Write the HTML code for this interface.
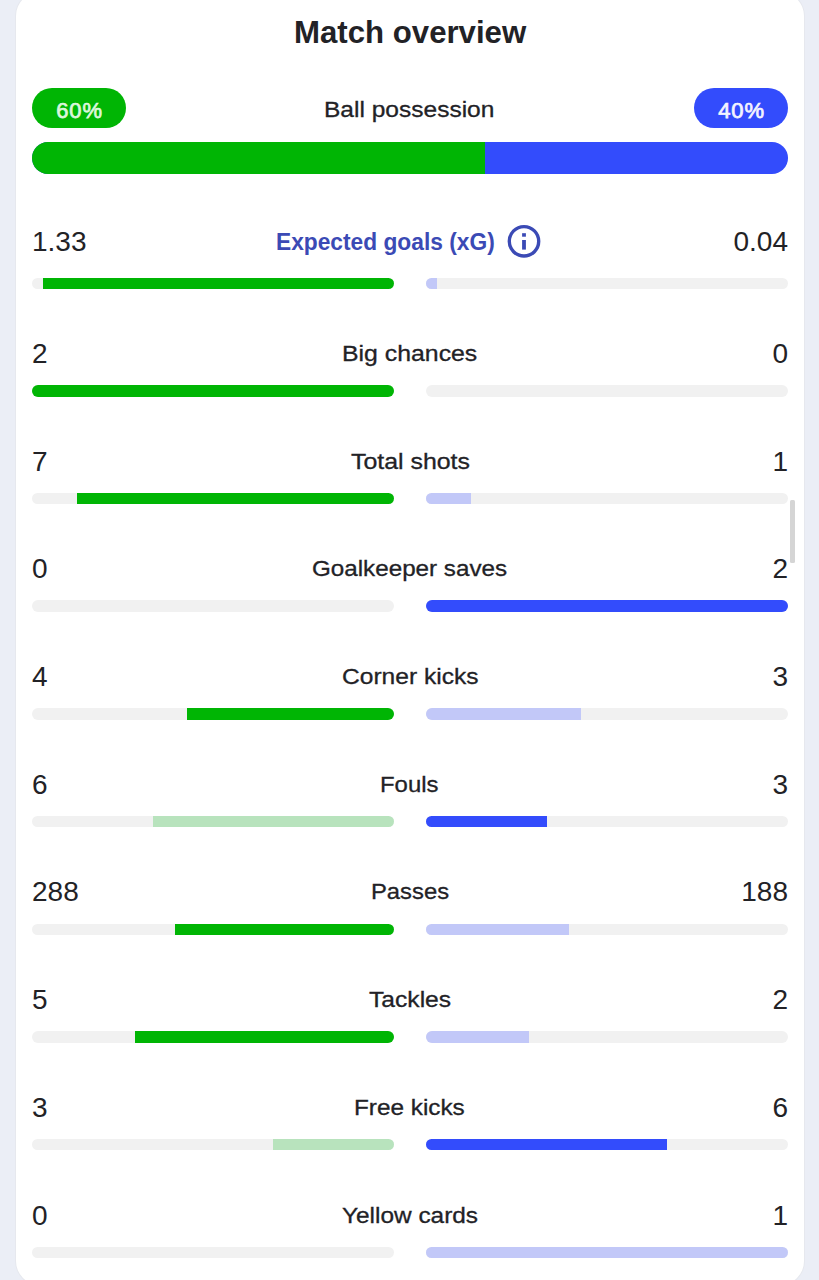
<!DOCTYPE html>
<html><head><meta charset="utf-8"><style>
html,body{margin:0;padding:0}
body{width:819px;height:1280px;overflow:hidden;background:#ebeef6;position:relative;font-family:"Liberation Sans",sans-serif;color:#222226}
.card{position:absolute;left:16px;top:-8px;width:788px;height:1293px;background:#fff;border-radius:24px;box-shadow:0 0 0 1px #e6e8ee}
.t{position:absolute;white-space:nowrap;line-height:1;transform-origin:0 0}
.lab{font-size:22px;-webkit-text-stroke:0.3px #222226}
.num{font-size:28px}
.track{position:absolute;height:11.5px;width:362px;background:#f1f1f1;border-radius:6px;overflow:hidden}
.fill{position:absolute;top:0;height:100%}
.pill{position:absolute;top:88px;width:94px;height:40px;border-radius:20px}
.pt{position:absolute;width:94px;text-align:center;font-size:22px;font-weight:400;-webkit-text-stroke:0.75px currentColor;letter-spacing:0.9px;line-height:1}
.sb{position:absolute;left:790px;top:500px;width:5px;height:63px;background:#d5d5d5;border-radius:1.5px}
</style></head><body>
<div class="card"></div>
<div class="t" style="left:293.53px;top:15.91px;font-size:32px;font-weight:700;transform:scaleX(0.9744)">Match overview</div>
<div class="pill" style="left:32px;background:#00b504"></div>
<div class="pill" style="left:694px;background:#334cfc"></div>
<div class="pt" style="left:32.5px;top:99.88px;color:#dcf7dc">60%</div>
<div class="pt" style="left:694.5px;top:99.88px;color:#f4f4ff">40%</div>
<div class="t lab" style="left:324.29px;top:98.78px;transform:scaleX(1.1145);">Ball possession</div>
<div style="position:absolute;left:32px;top:142px;width:756px;height:32px;border-radius:16px;overflow:hidden;background:#334cfc"><div style="position:absolute;left:0;top:0;height:32px;width:453.2px;background:#00b504"></div></div>
<div class="t num" style="left:32px;top:228.22px">1.33</div>
<div class="t num" style="right:31px;top:228.22px">0.04</div>
<div class="t" style="left:276.41px;top:230.83px;font-size:23px;font-weight:700;color:#3b4ab5;transform:scaleX(0.9891)">Expected goals (xG)</div>
<svg style="position:absolute;left:506px;top:224px" width="36" height="36" viewBox="0 0 36 36"><circle cx="18" cy="17.3" r="14.7" fill="none" stroke="#3b4ab5" stroke-width="3.4"/><rect x="16.1" y="9.2" width="3.8" height="3.5" fill="#3b4ab5"/><rect x="16.1" y="16" width="3.8" height="9.6" fill="#3b4ab5"/></svg>
<div class="track" style="left:32px;top:277.75px"><div class="fill" style="right:0;width:351.43px;background:#00b504"></div></div>
<div class="track" style="left:426px;top:277.75px"><div class="fill" style="left:0;width:10.57px;background:#c2c8f8"></div></div>
<div class="t num" style="left:32px;top:339.92px">2</div>
<div class="t num" style="right:31px;top:339.92px">0</div>
<div class="t lab" style="left:341.87px;top:342.98px;transform:scaleX(1.1286);">Big chances</div>
<div class="track" style="left:32px;top:385.05px"><div class="fill" style="right:0;width:362.00px;background:#00b504"></div></div>
<div class="track" style="left:426px;top:385.05px"><div class="fill" style="left:0;width:0.00px;background:#c2c8f8"></div></div>
<div class="t num" style="left:32px;top:447.62px">7</div>
<div class="t num" style="right:31px;top:447.62px">1</div>
<div class="t lab" style="left:351.0px;top:450.68px;transform:scaleX(1.1314);">Total shots</div>
<div class="track" style="left:32px;top:492.75px"><div class="fill" style="right:0;width:316.75px;background:#00b504"></div></div>
<div class="track" style="left:426px;top:492.75px"><div class="fill" style="left:0;width:45.25px;background:#c2c8f8"></div></div>
<div class="t num" style="left:32px;top:555.32px">0</div>
<div class="t num" style="right:31px;top:555.32px">2</div>
<div class="t lab" style="left:312.1px;top:558.38px;transform:scaleX(1.1);">Goalkeeper saves</div>
<div class="track" style="left:32px;top:600.45px"><div class="fill" style="right:0;width:0.00px;background:#b8e3bd"></div></div>
<div class="track" style="left:426px;top:600.45px"><div class="fill" style="left:0;width:362.00px;background:#334cfc"></div></div>
<div class="t num" style="left:32px;top:663.02px">4</div>
<div class="t num" style="right:31px;top:663.02px">3</div>
<div class="t lab" style="left:341.6px;top:666.08px;transform:scaleX(1.1164);">Corner kicks</div>
<div class="track" style="left:32px;top:708.15px"><div class="fill" style="right:0;width:206.86px;background:#00b504"></div></div>
<div class="track" style="left:426px;top:708.15px"><div class="fill" style="left:0;width:155.14px;background:#c2c8f8"></div></div>
<div class="t num" style="left:32px;top:770.72px">6</div>
<div class="t num" style="right:31px;top:770.72px">3</div>
<div class="t lab" style="left:380.11px;top:773.78px;transform:scaleX(1.0868);">Fouls</div>
<div class="track" style="left:32px;top:815.85px"><div class="fill" style="right:0;width:241.33px;background:#b8e3bd"></div></div>
<div class="track" style="left:426px;top:815.85px"><div class="fill" style="left:0;width:120.67px;background:#334cfc"></div></div>
<div class="t num" style="left:32px;top:878.42px">288</div>
<div class="t num" style="right:31px;top:878.42px">188</div>
<div class="t lab" style="left:370.92px;top:881.48px;transform:scaleX(1.0817);">Passes</div>
<div class="track" style="left:32px;top:923.55px"><div class="fill" style="right:0;width:219.03px;background:#00b504"></div></div>
<div class="track" style="left:426px;top:923.55px"><div class="fill" style="left:0;width:142.97px;background:#c2c8f8"></div></div>
<div class="t num" style="left:32px;top:986.12px">5</div>
<div class="t num" style="right:31px;top:986.12px">2</div>
<div class="t lab" style="left:369.0px;top:989.18px;transform:scaleX(1.1192);">Tackles</div>
<div class="track" style="left:32px;top:1031.25px"><div class="fill" style="right:0;width:258.57px;background:#00b504"></div></div>
<div class="track" style="left:426px;top:1031.25px"><div class="fill" style="left:0;width:103.43px;background:#c2c8f8"></div></div>
<div class="t num" style="left:32px;top:1093.82px">3</div>
<div class="t num" style="right:31px;top:1093.82px">6</div>
<div class="t lab" style="left:354.29px;top:1096.88px;transform:scaleX(1.1051);">Free kicks</div>
<div class="track" style="left:32px;top:1138.95px"><div class="fill" style="right:0;width:120.67px;background:#b8e3bd"></div></div>
<div class="track" style="left:426px;top:1138.95px"><div class="fill" style="left:0;width:241.33px;background:#334cfc"></div></div>
<div class="t num" style="left:32px;top:1201.52px">0</div>
<div class="t num" style="right:31px;top:1201.52px">1</div>
<div class="t lab" style="left:342.1px;top:1204.58px;transform:scaleX(1.1089);">Yellow cards</div>
<div class="track" style="left:32px;top:1246.65px"><div class="fill" style="right:0;width:0.00px;background:#b8e3bd"></div></div>
<div class="track" style="left:426px;top:1246.65px"><div class="fill" style="left:0;width:362.00px;background:#c2c8f8"></div></div>
<div class="sb"></div>
</body></html>
